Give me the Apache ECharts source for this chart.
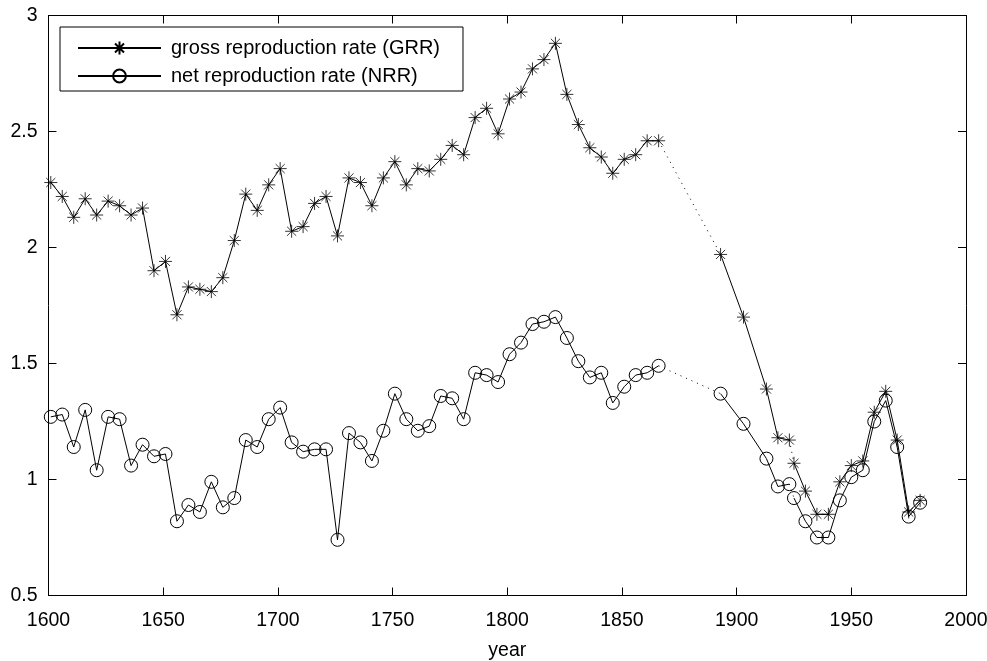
<!DOCTYPE html>
<html>
<head>
<meta charset="utf-8">
<script src="https://cdn.jsdelivr.net/npm/echarts@6/dist/echarts.min.js"></script>
<style>html,body{margin:0;padding:0;background:#fff}#c{width:987px;height:661px}</style>
</head>
<body>
<div id="c"></div>
<script>
// ---- data ----
var yearsA = [1601,1606,1611,1616,1621,1626,1631,1636,1641,1646,1651,1656,1661,1666,1671,1676,1681,1686,1691,1696,1701,1706,1711,1716,1721,1726,1731,1736,1741,1746,1751,1756,1761,1766,1771,1776,1781,1786,1791,1796,1801,1806,1811,1816,1821,1826,1831,1836,1841,1846,1851,1856,1861,1866];
var grrA = [2.28,2.22,2.13,2.21,2.14,2.20,2.18,2.14,2.17,1.90,1.94,1.71,1.83,1.82,1.81,1.87,2.03,2.23,2.16,2.27,2.34,2.07,2.09,2.19,2.22,2.05,2.30,2.28,2.18,2.30,2.37,2.27,2.34,2.33,2.38,2.44,2.40,2.56,2.60,2.49,2.64,2.67,2.77,2.81,2.88,2.66,2.53,2.43,2.39,2.32,2.38,2.40,2.46,2.46];
var nrrA = [1.27,1.28,1.14,1.30,1.04,1.27,1.26,1.06,1.15,1.10,1.11,0.82,0.89,0.86,0.99,0.88,0.92,1.17,1.14,1.26,1.31,1.16,1.12,1.13,1.13,0.74,1.20,1.16,1.08,1.21,1.37,1.26,1.21,1.23,1.36,1.35,1.26,1.46,1.45,1.42,1.54,1.59,1.67,1.68,1.70,1.61,1.51,1.44,1.46,1.33,1.40,1.45,1.46,1.49];
var yearsB = [1893,1903,1913,1918,1923];
var grrB = [1.97,1.70,1.39,1.18,1.17];
var nrrB = [1.37,1.24,1.09,0.97,0.98];
var yearsC = [1925,1930,1935,1940,1945,1950,1955,1960,1965,1970,1975,1980];
var grrC = [1.07,0.95,0.85,0.85,0.99,1.06,1.08,1.29,1.38,1.17,0.86,0.91];
var nrrC = [0.92,0.82,0.75,0.75,0.91,1.01,1.04,1.25,1.34,1.14,0.84,0.90];
var xTicks = [1600,1650,1700,1750,1800,1850,1900,1950,2000];
var yTicks = [0.5,1,1.5,2,2.5,3];
var GRR = 'gross reproduction rate (GRR)';
var NRR = 'net reproduction rate (NRR)';

function pairs(xs, ys){ return xs.map(function(x,i){ return [x, ys[i]]; }); }
function last(a){ return a[a.length-1]; }

var FONT = '"Liberation Sans", Arial, Helvetica, sans-serif';
var STAR = 'path://M0,5 L10,5 M5,0 L5,10 M1.5,1.5 L8.5,8.5 M8.5,1.5 L1.5,8.5';

function seg(name, xs, ys, isStar){
  return {
    name: name, type: 'line', data: pairs(xs, ys), xAxisIndex: 0, yAxisIndex: 0,
    symbol: isStar ? STAR : 'circle', symbolSize: isStar ? 13 : 13,
    showSymbol: true, animation: false, silent: true,
    lineStyle: { color: '#000', width: 1 },
    itemStyle: isStar ? { color: '#000', borderColor: '#000', borderWidth: 0.8 }
                      : { color: 'rgba(0,0,0,0)', borderColor: '#000', borderWidth: 1 }
  };
}
function dots(p, q){
  return { type: 'line', data: [p, q], symbol: 'none', animation: false, silent: true,
    lineStyle: { color: '#000', width: 1, type: [1, 5] } };
}

var series = [
  seg(GRR, yearsA, grrA, true), seg(GRR, yearsB, grrB, true), seg(GRR, yearsC, grrC, true),
  seg(NRR, yearsA, nrrA, false), seg(NRR, yearsB, nrrB, false), seg(NRR, yearsC, nrrC, false),
  dots([last(yearsA), last(grrA)], [yearsB[0], grrB[0]]),
  dots([last(yearsB), last(grrB)], [yearsC[0], grrC[0]]),
  dots([last(yearsA), last(nrrA)], [yearsB[0], nrrB[0]]),
  dots([last(yearsB), last(nrrB)], [yearsC[0], nrrC[0]])
];

var axisBase = {
  axisLine: { show: true, lineStyle: { color: '#000', width: 1 } },
  axisTick: { show: true, inside: true, length: 8, lineStyle: { color: '#000', width: 1 } },
  splitLine: { show: false }
};

var chart = echarts.init(document.getElementById('c'), null, { renderer: 'canvas' });
chart.setOption({
  backgroundColor: '#fff',
  animation: false,
  textStyle: { fontFamily: FONT },
  grid: { left: 48.5, right: 21, top: 15.5, bottom: 65.5, containLabel: false, outerBoundsMode: 'none' },
  legend: {
    data: [GRR, NRR], orient: 'vertical', left: 60, top: 27,
    backgroundColor: '#fff', borderColor: '#000', borderWidth: 1, borderRadius: 0,
    padding: [11, 23, 5, 17], itemWidth: 83, itemHeight: 16, itemGap: 8,
    textStyle: { fontFamily: FONT, fontSize: 20, lineHeight: 16, color: '#000', padding: [0, 0, 0, 5] },
    selectedMode: false
  },
  xAxis: [
    Object.assign({ type: 'value', position: 'bottom', min: 1600, max: 2000, interval: 50,
      name: 'year', nameLocation: 'middle', nameGap: 45,
      nameTextStyle: { fontFamily: FONT, fontSize: 19.5, color: '#000' },
      axisLabel: { fontFamily: FONT, fontSize: 19.5, color: '#000', margin: 15,
        formatter: function(v){ return xTicks.indexOf(v) >= 0 ? String(v) : ''; } } }, axisBase),
    Object.assign({ type: 'value', position: 'top', min: 1600, max: 2000, interval: 50,
      axisLabel: { show: false } }, axisBase)
  ],
  yAxis: [
    Object.assign({ type: 'value', position: 'left', min: 0.5, max: 3, interval: 0.5,
      axisLabel: { fontFamily: FONT, fontSize: 19.5, color: '#000', margin: 11,
        formatter: function(v){ return yTicks.indexOf(v) >= 0 ? String(v) : ''; } } }, axisBase),
    Object.assign({ type: 'value', position: 'right', min: 0.5, max: 3, interval: 0.5,
      axisLabel: { show: false } }, axisBase)
  ],
  series: series
});
</script>
</body>
</html>
